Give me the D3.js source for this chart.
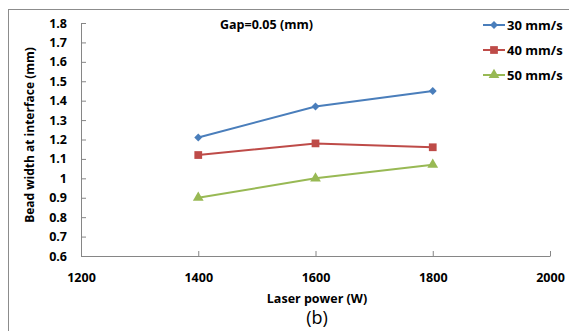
<!DOCTYPE html>
<html>
<head>
<meta charset="utf-8">
<script src="https://cdn.jsdelivr.net/npm/d3@7"></script>
<style>
  body { margin: 0; background: #fff; }
  text { font-family: "Open Sans", Lato, sans-serif; font-weight: bold; fill: #000; }
</style>
</head>
<body>
<div class="canvas"></div>
<script>
const laserPower = [1400, 1600, 1800];
const speed30 = [1.21, 1.37, 1.45];
const speed40 = [1.12, 1.18, 1.16];
const speed50 = [0.90, 1.00, 1.07];
const seriesNames = ['30 mm/s', '40 mm/s', '50 mm/s'];
const xTicks = [1200, 1400, 1600, 1800, 2000];
const yTicks = [0.6, 0.7, 0.8, 0.9, 1, 1.1, 1.2, 1.3, 1.4, 1.5, 1.6, 1.7, 1.8];

const series = [
    {name: seriesNames[0], values: speed30, color: '#4a7ebb', symbol: d3.symbolDiamond2, size: 40},
    {name: seriesNames[1], values: speed40, color: '#be4b48', symbol: d3.symbolSquare, size: 60},
    {name: seriesNames[2], values: speed50, color: '#98b954', symbol: d3.symbolTriangle, size: 50}
];

const outerWidth = 569;
const outerHeight = 331;
const margin = {top: 23, right: 19, bottom: 75, left: 81};
const graphWidth = outerWidth - margin.left - margin.right;
const graphHeight = outerHeight - margin.top - margin.bottom;

const svg = d3.select('.canvas')
    .append('svg')
    .attr('width', outerWidth)
    .attr('height', outerHeight);

// outer frame (left and top edges visible)
svg.append('rect')
    .attr('x', 8.5)
    .attr('y', 9.5)
    .attr('width', 600)
    .attr('height', 400)
    .attr('fill', 'none')
    .attr('stroke', '#8c8c8c')
    .attr('stroke-width', 1);

const graph = svg.append('g')
    .attr('transform', `translate(${margin.left}, ${margin.top})`);

const x = d3.scaleLinear().domain([1200, 2000]).range([0, graphWidth]);
const y = d3.scaleLinear().domain([0.6, 1.8]).range([graphHeight, 0]);

// Axes
const xAxis = d3.axisBottom(x)
    .tickValues(xTicks)
    .tickSizeInner(-5)
    .tickSizeOuter(0)
    .tickPadding(17)
    .tickFormat(d3.format('d'));

const yAxis = d3.axisLeft(y)
    .tickValues(yTicks)
    .tickSizeInner(-5)
    .tickSizeOuter(0)
    .tickPadding(14)
    .tickFormat(d => d === 1 ? '1' : d3.format('.1f')(d));

const xAxisGroup = graph.append('g')
    .attr('transform', `translate(0, ${graphHeight})`)
    .call(xAxis);

const yAxisGroup = graph.append('g')
    .call(yAxis);

[xAxisGroup, yAxisGroup].forEach(g => {
    g.select('.domain').attr('stroke', '#868686');
    g.selectAll('.tick line').attr('stroke', '#868686');
    g.selectAll('text').style('font-size', '12.5px').attr('fill', '#000');
});

// Lines and markers
const line = d3.line()
    .x((d, i) => x(laserPower[i]))
    .y(d => y(d));

series.forEach(s => {
    graph.append('path')
        .datum(s.values)
        .attr('fill', 'none')
        .attr('stroke', s.color)
        .attr('stroke-width', 2)
        .attr('d', line);

    graph.selectAll(null)
        .data(s.values)
        .enter()
        .append('path')
        .attr('d', d3.symbol().type(s.symbol).size(s.size))
        .attr('fill', s.color)
        .attr('transform', (d, i) => `translate(${x(laserPower[i])}, ${y(d)})`);
});

// Axis titles
svg.append('text')
    .attr('x', 317)
    .attr('y', 303)
    .attr('text-anchor', 'middle')
    .style('font-size', '12.5px')
    .text('Laser power (W)');

svg.append('text')
    .attr('x', 317)
    .attr('y', 324)
    .attr('text-anchor', 'middle')
    .style('font-size', '18px')
    .style('font-weight', 'normal')
    .text('(b)');

svg.append('text')
    .attr('transform', 'translate(34, 135) rotate(-90)')
    .attr('text-anchor', 'middle')
    .style('font-size', '12px')
    .text('Bead width at interface (mm)');

svg.append('text')
    .attr('x', 220)
    .attr('y', 29)
    .style('font-size', '12.5px')
    .text('Gap=0.05 (mm)');

// Legend
const legend = svg.append('g')
    .attr('transform', 'translate(483, 25)');

series.forEach((s, i) => {
    const row = legend.append('g')
        .attr('transform', `translate(0, ${i * 25})`);
    row.append('line')
        .attr('x1', 0).attr('x2', 22)
        .attr('stroke', s.color)
        .attr('stroke-width', 2);
    row.append('path')
        .attr('d', d3.symbol().type(s.symbol).size(s.size))
        .attr('fill', s.color)
        .attr('transform', 'translate(11, 0)');
    row.append('text')
        .attr('x', 24)
        .attr('y', 4.5)
        .style('font-size', '13px')
        .text(s.name);
});
</script>
</body>
</html>
